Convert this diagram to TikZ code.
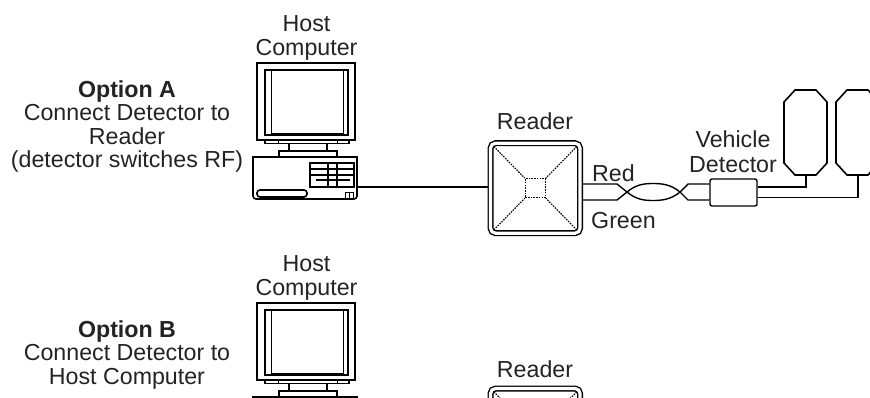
\documentclass[tikz,border=0pt]{standalone}
\usepackage{fontspec}
\setmainfont{Liberation Sans}
\usepackage{tikz}
\definecolor{ink}{RGB}{35,35,35}
\tikzset{
	lbl/.style={anchor=north, inner sep=0pt, align=center, text=ink, font=\fontsize{23.2}{23.4}\selectfont},
	frame/.style={line width=1.6pt},
	wire/.style={line width=1.4pt},
	rdr/.style={draw, double, double distance=3.2pt, line width=1.4pt, rounded corners=5pt, minimum width=89.5pt, minimum height=90pt, inner sep=0pt},
	hub/.style={draw, dash pattern=on 1.6pt off 1.1pt, line width=1.1pt, minimum width=20pt, minimum height=19pt, inner sep=0pt},
	spoke/.style={dash pattern=on 1.6pt off 1.1pt, line width=1.1pt}
}
% monitor and desktop case, #1 = vertical offset, #2 = name of the cable port
\newcommand{\hostpc}[2]{
	\begin{scope}[shift={(0,#1)}]
		\draw[frame](257,63)rectangle(355,140);
		\draw[frame](265,70)rectangle(348,135);
		\draw[line width=.9pt](271,70)--(271,133)--(343,133)--(343,70);
		\draw[frame](265,140)rectangle(349,143.5);
		\draw[line width=.9pt](278,140)--(278,143.5)(337,140)--(337,143.5);
		\draw[frame](289,143.5)rectangle(327,151);
		\draw[frame](279,151)rectangle(337,157);
		\draw[frame](253,170)[rounded corners=3pt]--(253,199)--(357,199)--(357,170)[sharp corners]--(357,157)--(253,157)--(253,170);
		\draw[frame](310,163)rectangle(354,187);
		\draw[line width=1.1pt](310,169)--(354,169)(310,175)--(354,175)(316,180)--(350,180)(328,163)--(328,187)(337,163)--(337,187);
		\draw[frame, rounded corners=3pt](257,190)rectangle(307,197);
		\draw[line width=1pt](345,192)rectangle(353,198)(349,192)--(349,198);
		\coordinate(#2)at(357,187);
	\end{scope}
}
% reader with its dotted antenna pattern
\newcommand{\reader}[2]{
	\node[rdr](#1)at(535.3,#2){};
	\node[hub](hub#1)at(#1){};
	\draw[spoke]([shift={(4,4)}]#1.north west)--(hub#1.north west);
	\draw[spoke]([shift={(-4,4)}]#1.north east)--(hub#1.north east);
	\draw[spoke]([shift={(4,-4)}]#1.south west)--(hub#1.south west);
	\draw[spoke]([shift={(-4,-4)}]#1.south east)--(hub#1.south east);
}

\begin{document}
\begin{tikzpicture}[x=1pt, y=-1pt]
	\useasboundingbox(0,0)rectangle(870,397);
	\clip(0,0)rectangle(870,397);
	% option A
	\node[lbl](optA)at(127,80.5){\textbf{Option A}\\Connect Detector to\\Reader\\(detector switches RF)};
	\node[lbl](hostA)at(306.5,15.5){Host\\Computer};
	\hostpc{0}{pcA}
	\node[lbl](rdrlblA)at(535,112){Reader};
	\reader{readerA}{188.2}
	\draw[wire, shorten >=2.3pt](pcA)--(pcA -| readerA.west);
	\coordinate(redA)at(582.3,184);
	\coordinate(greenA)at(582.3,200);
	\node[lbl, anchor=north west](red)at(592,164){Red};
	\node[lbl, anchor=north west](green)at(591,212){Green};
	\node[draw, line width=1.4pt, rounded corners=2pt, minimum width=47pt, minimum height=27pt, inner sep=0pt](detA)at(733.5,192.5){};
	\node[lbl, font=\fontsize{23.2}{25.5}\selectfont](vdet)at(733,130){Vehicle\\Detector};
	% twisted pair
	\draw[wire](redA)--(617,184)--(627,192)..controls(636,199.5)and(644,200.5)..(653,200.5)..controls(662,200.5)and(671,199.5)..(680,192)--(688,184)--(detA.west |- redA);
	\draw[wire](greenA)--(617,200)--(627,192)..controls(636,184.5)and(644,183.5)..(653,183.5)..controls(662,183.5)and(671,184.5)..(680,192)--(688,200)--(detA.west |- greenA);
	% loops
	\draw[frame](795,90)--(816,90)--(827,102)--(827,163)--(816,175)--(795,175)--(784,163)--(784,102)--cycle;
	\draw[frame](847,90)--(868,90)--(879,102)--(879,163)--(868,175)--(847,175)--(836,163)--(836,102)--cycle;
	\coordinate(loopA)at(806,175);
	\coordinate(loopB)at(858,175);
	\draw[wire](detA.east |- 0,187)-|(loopA);
	\draw[wire](detA.east |- 0,197.5)-|(loopB);
	% option B
	\node[lbl](optB)at(127,320.5){\textbf{Option B}\\Connect Detector to\\Host Computer};
	\node[lbl](hostB)at(306.5,255.5){Host\\Computer};
	\hostpc{240}{pcB}
	\node[lbl](rdrlblB)at(535,360){Reader};
	\reader{readerB}{433.5}
\end{tikzpicture}
\end{document}
